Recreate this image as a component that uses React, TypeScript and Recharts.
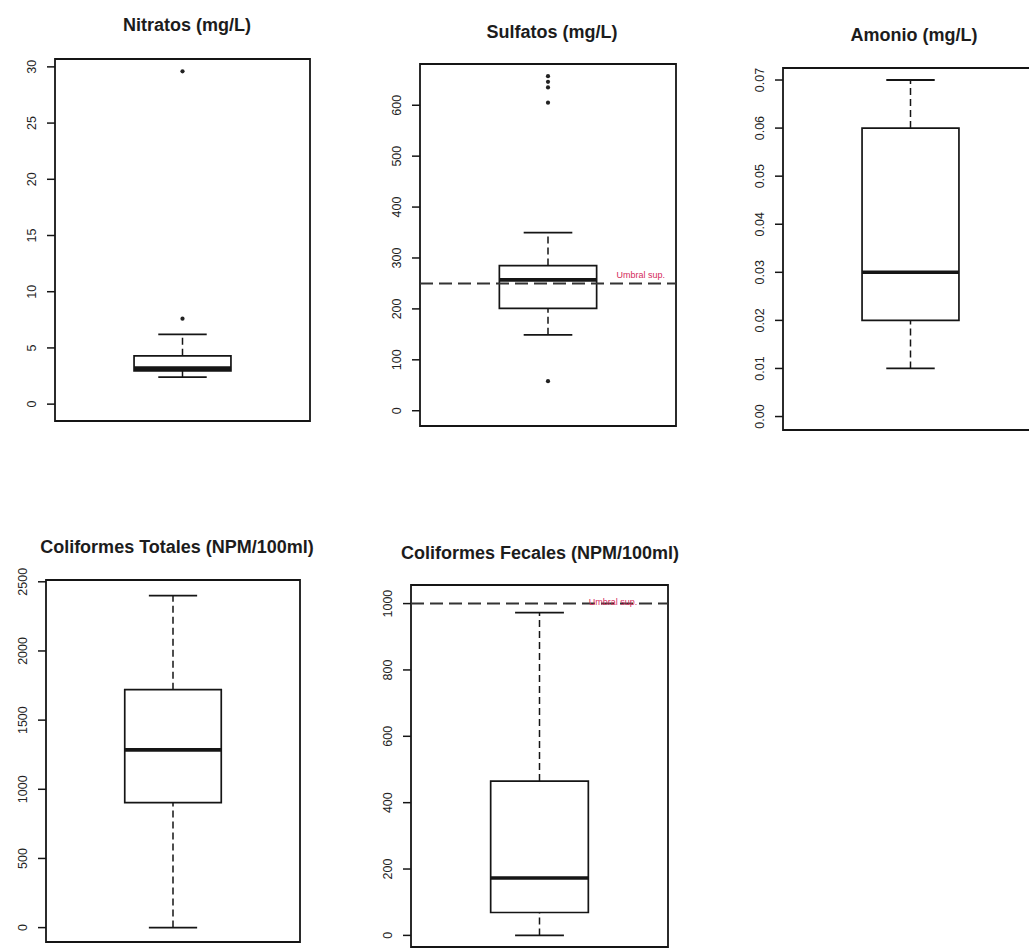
import React from 'react';
import { ComposedChart, XAxis, YAxis, Scatter, ReferenceArea, ReferenceLine } from 'recharts';

// ---------- DATA ----------
// box stats: [lower whisker, Q1, median, Q3, upper whisker]
const nitratosBox = [2.4, 2.95, 3.2, 4.3, 6.2];
const nitratosOutliers = [29.6, 7.6];
const nitratosTicks = [0, 5, 10, 15, 20, 25, 30];

const sulfatosBox = [149, 201, 257, 285, 350];
const sulfatosOutliers = [657, 646, 635, 605, 58];
const sulfatosTicks = [0, 100, 200, 300, 400, 500, 600];
const sulfatosThreshold = 250;

const amonioBox = [0.01, 0.02, 0.03, 0.06, 0.07];
const amonioOutliers: number[] = [];
const amonioTicks = [0, 0.01, 0.02, 0.03, 0.04, 0.05, 0.06, 0.07];

const totalesBox = [0, 904, 1285, 1720, 2400];
const totalesOutliers: number[] = [];
const totalesTicks = [0, 500, 1000, 1500, 2000, 2500];

const fecalesBox = [0, 69, 173, 465, 973];
const fecalesOutliers: number[] = [];
const fecalesTicks = [0, 200, 400, 600, 800, 1000];
const fecalesThreshold = 1000;

const thresholdLabel = 'Umbral sup.';
const titles = [
  'Nitratos (mg/L)',
  'Sulfatos (mg/L)',
  'Amonio (mg/L)',
  'Coliformes Totales (NPM/100ml)',
  'Coliformes Fecales (NPM/100ml)',
];

// ---------- LAYOUT ----------
const FONT = '"Liberation Sans", Arial, Helvetica, sans-serif';
const INK = '#151515';
const PAD_L = 60;
const PAD_T = 30;
const PAD_B = 20;

type PanelProps = {
  title: string;
  titleX: number;
  titleY: number;
  box: number[];
  outliers: number[];
  ticks: number[];
  domain: [number, number];
  frame: { left: number; top: number; w: number; h: number };
  decimals?: number;
  threshold?: number;
  labelFx?: number;
  labelDy?: number;
};

const RotTick = (props: any) => {
  const { x, y, payload, decimals } = props;
  const v = payload.value;
  const s = decimals ? Number(v).toFixed(decimals) : String(v);
  return (
    <text
      x={x}
      y={y}
      transform={`rotate(-90 ${x} ${y})`}
      textAnchor="middle"
      fontSize={12.5}
      fontFamily={FONT}
      fill="#222"
    >
      {s}
    </text>
  );
};

const ThresholdLabel = (props: any) => {
  const { viewBox, fx, dy } = props;
  if (!viewBox) return null;
  const { x, y, width } = viewBox;
  return (
    <text x={x + width * fx} y={y + dy} textAnchor="end" fontSize={9} fontFamily={FONT} fill="#d42a5b">
      {thresholdLabel}
    </text>
  );
};

const Dot = (props: any) => {
  const { cx, cy } = props;
  if (cx == null || cy == null) return null;
  return <circle cx={cx} cy={cy} r={2.1} fill="#222" />;
};

const Panel = (p: PanelProps) => {
  const { box, frame, domain } = p;
  const [lo, q1, med, q3, hi] = box;
  const outData = p.outliers.map((v) => ({ x: 0.5, y: v }));
  const statData = [
    { x: 0.5, y: lo },
    { x: 0.5, y: hi },
  ];
  const boxL = 0.31;
  const boxR = 0.69;
  const capL = 0.405;
  const capR = 0.595;
  return (
    <>
      <div
        style={{
          position: 'absolute',
          left: p.titleX,
          top: p.titleY,
          transform: 'translate(-50%, -50%)',
          whiteSpace: 'nowrap',
          fontFamily: FONT,
          fontWeight: 'bold',
          fontSize: 18,
          color: '#1c1c1c',
        }}
      >
        {p.title}
      </div>
      <div style={{ position: 'absolute', left: frame.left - PAD_L, top: frame.top - PAD_T }}>
        <ComposedChart
          width={frame.w + PAD_L + 10}
          height={frame.h + PAD_T + PAD_B}
          margin={{ top: PAD_T, right: 10, bottom: PAD_B, left: PAD_L - 30 }}
        >
          <XAxis type="number" dataKey="x" domain={[0, 1]} hide allowDataOverflow />
          <YAxis
            type="number"
            dataKey="y"
            domain={domain}
            ticks={p.ticks}
            interval={0}
            width={30}
            allowDataOverflow
            axisLine={false}
            tickSize={8}
            tickMargin={11}
            tickLine={{ stroke: INK, strokeWidth: 1.5 }}
            tick={<RotTick decimals={p.decimals} />}
          />
          {p.threshold != null && (
            <ReferenceLine
              y={p.threshold}
              stroke="#333"
              strokeWidth={2}
              strokeDasharray="13 6"
              label={<ThresholdLabel fx={p.labelFx} dy={p.labelDy} />}
            />
          )}
          <ReferenceArea
            x1={boxL}
            x2={boxR}
            y1={q1}
            y2={q3}
            fill="none"
            fillOpacity={0}
            stroke={INK}
            strokeWidth={1.7}
          />
          <ReferenceLine
            segment={[
              { x: 0.5, y: q3 },
              { x: 0.5, y: hi },
            ]}
            stroke={INK}
            strokeWidth={1.5}
            strokeDasharray="7 4"
          />
          <ReferenceLine
            segment={[
              { x: 0.5, y: lo },
              { x: 0.5, y: q1 },
            ]}
            stroke={INK}
            strokeWidth={1.5}
            strokeDasharray="7 4"
          />
          <ReferenceLine
            segment={[
              { x: capL, y: hi },
              { x: capR, y: hi },
            ]}
            stroke={INK}
            strokeWidth={1.8}
          />
          <ReferenceLine
            segment={[
              { x: capL, y: lo },
              { x: capR, y: lo },
            ]}
            stroke={INK}
            strokeWidth={1.8}
          />
          <ReferenceLine
            segment={[
              { x: boxL, y: med },
              { x: boxR, y: med },
            ]}
            stroke={INK}
            strokeWidth={3.6}
          />
          <ReferenceArea
            x1={0}
            x2={1}
            y1={domain[0]}
            y2={domain[1]}
            fill="none"
            fillOpacity={0}
            stroke={INK}
            strokeWidth={1.8}
          />
          <Scatter data={statData} shape={() => null} isAnimationActive={false} />
          <Scatter data={outData} shape={<Dot />} isAnimationActive={false} />
        </ComposedChart>
      </div>
    </>
  );
};

export default function App() {
  return (
    <div
      style={{
        position: 'fixed',
        left: 0,
        top: 0,
        width: 1029,
        height: 949,
        overflow: 'hidden',
        background: '#fff',
      }}
    >
      <Panel
        title={titles[0]}
        titleX={187}
        titleY={25}
        box={nitratosBox}
        outliers={nitratosOutliers}
        ticks={nitratosTicks}
        domain={[-1.5, 30.7]}
        frame={{ left: 55, top: 59, w: 255, h: 362 }}
      />
      <Panel
        title={titles[1]}
        titleX={552}
        titleY={32}
        box={sulfatosBox}
        outliers={sulfatosOutliers}
        ticks={sulfatosTicks}
        domain={[-30, 681]}
        frame={{ left: 420, top: 64, w: 256, h: 362 }}
        threshold={sulfatosThreshold}
        labelFx={0.957}
        labelDy={-5}
      />
      <Panel
        title={titles[2]}
        titleX={914}
        titleY={35}
        box={amonioBox}
        outliers={amonioOutliers}
        ticks={amonioTicks}
        domain={[-0.0028, 0.0725]}
        frame={{ left: 783, top: 68, w: 255, h: 362 }}
        decimals={2}
      />
      <Panel
        title={titles[3]}
        titleX={177}
        titleY={547}
        box={totalesBox}
        outliers={totalesOutliers}
        ticks={totalesTicks}
        domain={[-104, 2513]}
        frame={{ left: 46, top: 580, w: 254, h: 362 }}
      />
      <Panel
        title={titles[4]}
        titleX={540}
        titleY={553}
        box={fecalesBox}
        outliers={fecalesOutliers}
        ticks={fecalesTicks}
        domain={[-35, 1056]}
        frame={{ left: 411, top: 585, w: 257, h: 362 }}
        threshold={fecalesThreshold}
        labelFx={0.88}
        labelDy={1}
      />
    </div>
  );
}
